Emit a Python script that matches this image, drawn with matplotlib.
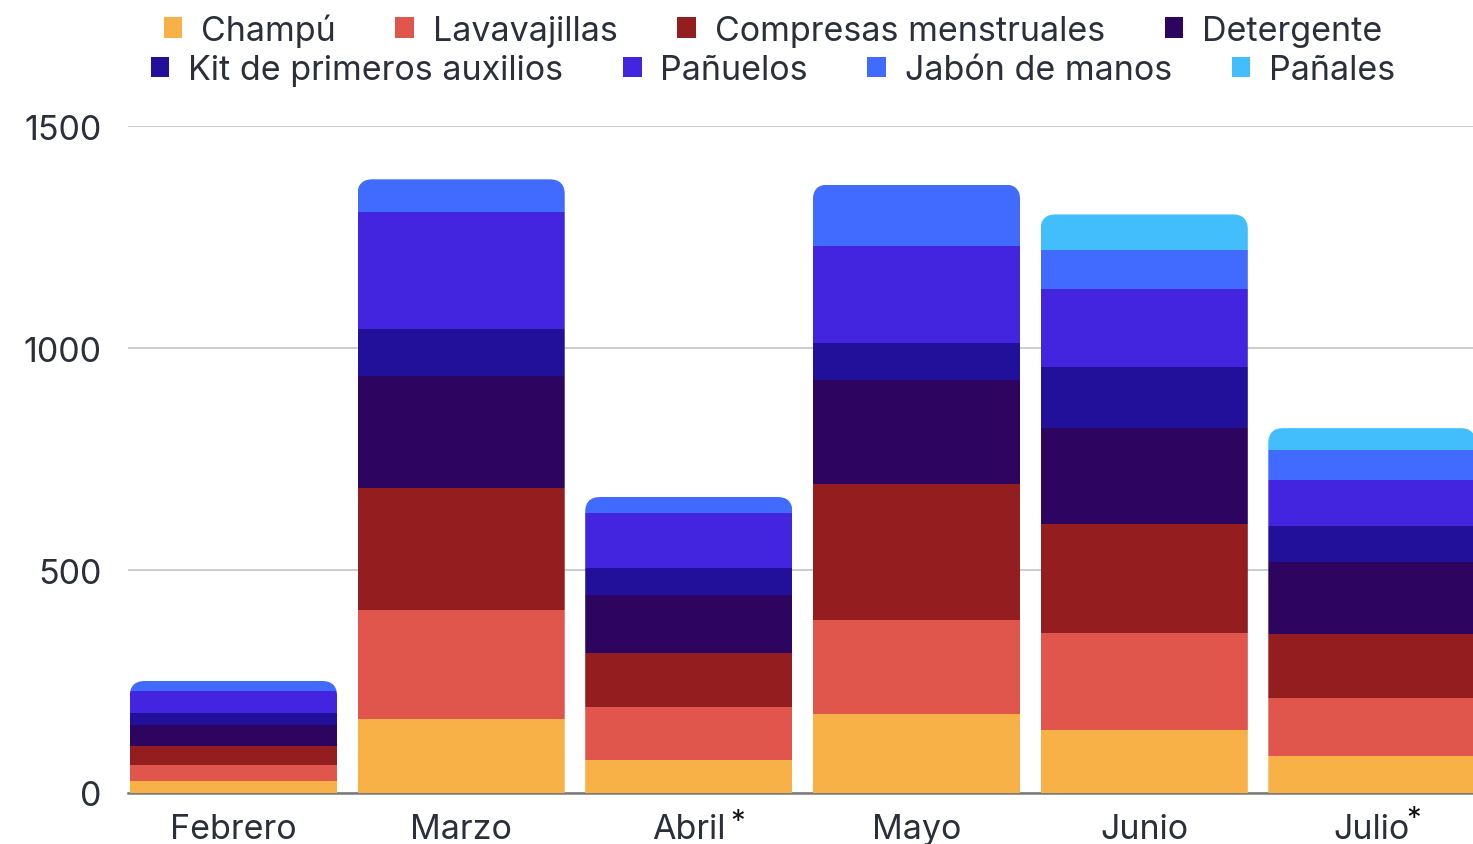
import numpy as np
import matplotlib.pyplot as plt
from matplotlib.patches import FancyBboxPatch, Patch

plt.rcParams['font.family'] = ['Inter', 'DejaVu Sans']

months = ["Febrero", "Marzo", "Abril", "Mayo", "Junio", "Julio"]
series = ["Champú", "Lavavajillas", "Compresas menstruales", "Detergente",
          "Kit de primeros auxilios", "Pañuelos", "Jabón de manos", "Pañales"]

champu = [26, 166, 73, 177, 141, 82]
lavavajillas = [36, 245, 120, 212, 218, 131]
compresas = [43, 275, 121, 306, 246, 144]
detergente = [47, 252, 131, 234, 216, 162]
kit = [27, 106, 61, 83, 137, 81]
panuelos = [50, 263, 124, 217, 176, 104]
jabon = [22, 73, 35, 139, 86, 67]
panales = [0, 0, 0, 0, 81, 49]

values = [champu, lavavajillas, compresas, detergente, kit, panuelos, jabon, panales]
colors = ['#F8B147', '#E0564C', '#931D1F', '#2D0560',
          '#23109A', '#4324DF', '#416AFF', '#43BEFC']
text_color = '#2A2F3A'

W, H = 1473, 845
fig = plt.figure(figsize=(W / 100, H / 100), dpi=100)
ax_l, ax_b, ax_r, ax_t = 128 / W, 1 - 793.5 / H, 1.0, 1 - 127 / H
ax = fig.add_axes([ax_l, ax_b, ax_r - ax_l, ax_t - ax_b])

x = np.arange(len(months))
width = 0.91
xlim = (-0.463, 5.444)
ylim = (0, 1500)
ax.set_xlim(*xlim)
ax.set_ylim(*ylim)

# corner radius ~15px, converted to data units
px_x = (ax_r - ax_l) * W / (xlim[1] - xlim[0])
px_y = (ax_t - ax_b) * H / (ylim[1] - ylim[0])
rx = 15 / px_x
ry = 15 / px_y

totals = np.sum(values, axis=0)
bottom = np.zeros(len(months))
bar_groups = []
for vals, c in zip(values, colors):
    bars = ax.bar(x, vals, width, bottom=bottom, color=c, linewidth=0, zorder=3)
    bar_groups.append(bars)
    bottom += np.array(vals)

# rounded top of each stack via clip path
for i in range(len(months)):
    clip = FancyBboxPatch((x[i] - width / 2, -3 * ry), width, totals[i] + 3 * ry,
                          boxstyle=f"round,pad=0,rounding_size={rx}",
                          mutation_aspect=ry / rx, transform=ax.transData)
    for bars in bar_groups:
        bars[i].set_clip_path(clip)

ax.set_yticks([0, 500, 1000, 1500])
ax.set_xticks(x)
ax.set_xticklabels(months)
ax.tick_params(axis='both', length=0, labelsize=24.5, colors=text_color)
ax.tick_params(axis='y', pad=19)
ax.tick_params(axis='x', pad=15)
ax.grid(axis='y', color='#C8C8C8', linewidth=1.3, zorder=0)
for s in ['top', 'right', 'left']:
    ax.spines[s].set_visible(False)
ax.spines['bottom'].set_color('#7A7A7A')
ax.spines['bottom'].set_linewidth(1.8)
ax.spines['bottom'].set_zorder(2)

# asterisks on Abril and Julio
for i, dx, dy in [(2, 35.5, -21), (5, 30, -19)]:
    ax.annotate('*', xy=(x[i], 0), xycoords=ax.get_xaxis_transform(),
                xytext=(dx, dy), textcoords='offset points',
                ha='center', va='center', fontsize=21, color='#111111',
                annotation_clip=False)

handles = [Patch(facecolor=c, edgecolor='none', label=s) for s, c in zip(series, colors)]
for row, yc in [(0, 1 - 31 / H), (1, 1 - 71 / H)]:
    leg = fig.legend(handles=handles[row * 4:(row + 1) * 4], loc='center',
                     bbox_to_anchor=(773 / W, yc), ncol=4, frameon=False,
                     fontsize=24.5, handlelength=0.55, handleheight=0.55,
                     handletextpad=0.55, columnspacing=1.75, borderpad=0)
    for t in leg.get_texts():
        t.set_color(text_color)

fig.savefig('out.png', dpi=100, facecolor='white')
